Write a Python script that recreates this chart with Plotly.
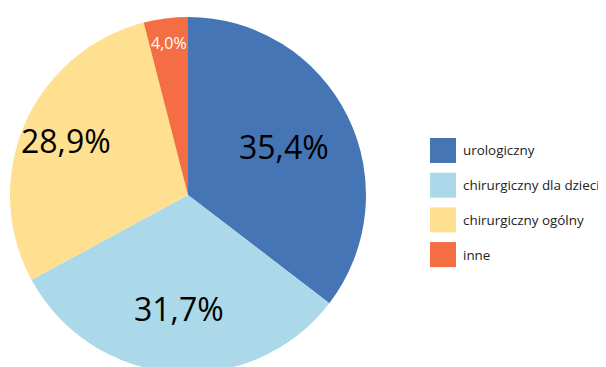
import math
import plotly.graph_objects as go

kategorie = ['urologiczny', 'chirurgiczny dla dzieci', 'chirurgiczny ogólny', 'inne']
udzialy = [35.4, 31.7, 28.9, 4.0]
kolory = ['#4575b4', '#abd9e9', '#fee090', '#f46d43']
kolory_tekstu = ['black', 'black', 'black', 'white']
rozmiary_tekstu = [32, 32, 32, 16]
# jak daleko od srodka (czesc promienia) stoi etykieta
odleglosc_etykiet = [0.60, 0.645, 0.75, 0.855]

# strona ma 8px marginesu body, wiec wszystko liczone w pikselach figury
W, H = 606, 370
cx, cy, r = 180, 187, 178

fig = go.Figure(go.Pie(
    labels=kategorie,
    values=udzialy,
    sort=False,
    direction='clockwise',
    rotation=0,
    marker=dict(colors=kolory, line=dict(width=0)),
    textinfo='none',
    hoverinfo='label+percent',
    domain=dict(x=[(cx - r) / W, (cx + r) / W], y=[1 - (cy + r) / H, 1 - (cy - r) / H]),
    showlegend=False,
))

# etykiety procentowe na dwusiecznej kazdego wycinka
suma = sum(udzialy)
narast = 0
for v, kol, roz, d in zip(udzialy, kolory_tekstu, rozmiary_tekstu, odleglosc_etykiet):
    kat = math.radians((narast + v / 2) / suma * 360)
    narast += v
    x = cx + d * r * math.sin(kat)
    y = cy - d * r * math.cos(kat)
    fig.add_annotation(x=x / W, y=1 - y / H, xref='paper', yref='paper',
                       text=f'{v:.1f}'.replace('.', ',') + '%', showarrow=False,
                       xanchor='center', yanchor='middle', yshift=1,
                       font=dict(size=roz, color=kol, family='Open Sans'))

# legenda rysowana recznie, zeby miec duze kwadraty jak w oryginale
for i, (nazwa, kolor) in enumerate(zip(kategorie, kolory)):
    y0 = 130 + i * 34.7
    fig.add_shape(type='rect', xref='paper', yref='paper',
                  x0=422 / W, x1=448 / W,
                  y0=1 - (y0 + 25) / H, y1=1 - y0 / H,
                  fillcolor=kolor, line=dict(width=0))
    fig.add_annotation(x=453 / W, y=1 - (y0 + 12.5) / H, xref='paper', yref='paper',
                       text=nazwa, showarrow=False, xanchor='left', yanchor='middle',
                       font=dict(size=13.4, color='#222222', family='Open Sans'))

fig.update_layout(
    width=W,
    height=H,
    margin=dict(l=0, r=0, t=0, b=0),
    paper_bgcolor='white',
    plot_bgcolor='white',
    font=dict(family='Open Sans'),
)

fig.write_html('out.html')
